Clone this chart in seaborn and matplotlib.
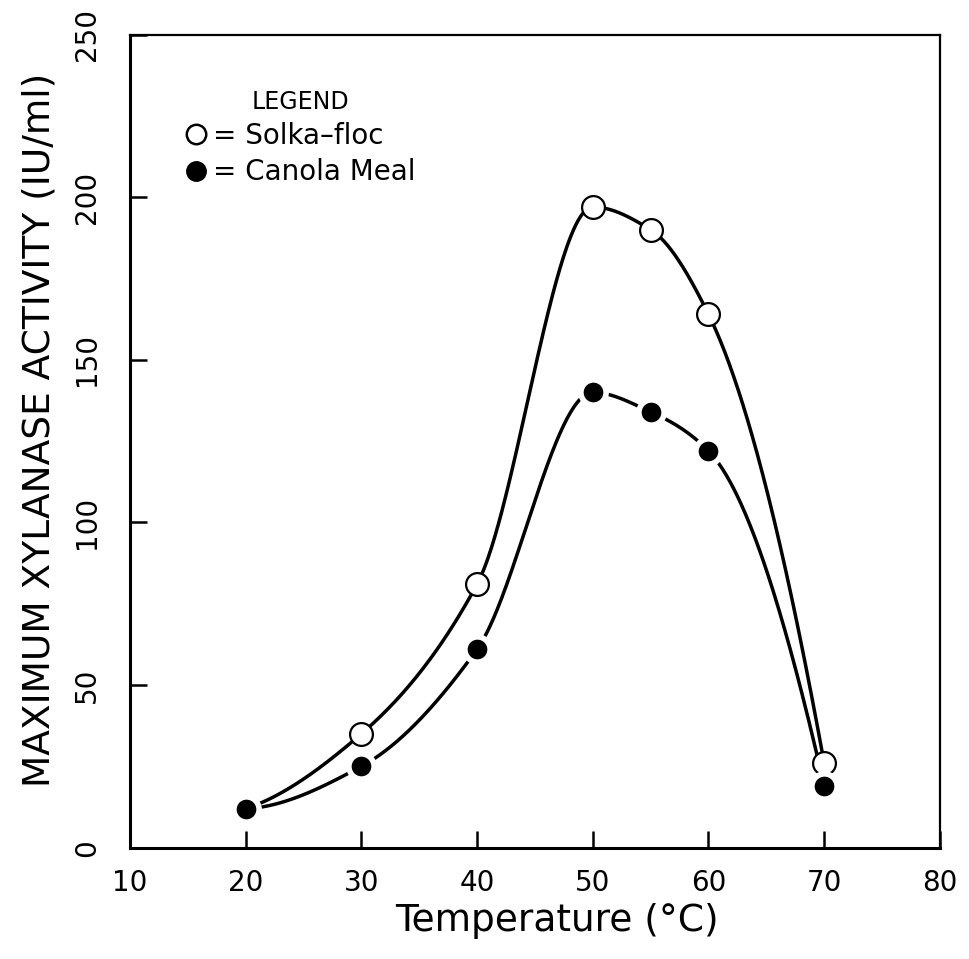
import numpy as np
import matplotlib
matplotlib.use("Agg")
import matplotlib.pyplot as plt
from matplotlib.lines import Line2D
import seaborn as sns

# values
temps = [20, 30, 40, 50, 55, 60, 70]
solka_floc = [12, 35, 81, 197, 190, 164, 26]
canola_meal = [12, 25, 61, 140, 134, 122, 19]

x_ticks = [10, 20, 30, 40, 50, 60, 70, 80]
y_ticks = [0, 50, 100, 150, 200, 250]


def pchip_curve(x, y, n=500):
    """Monotone cubic (PCHIP) through the points - only used to draw a smooth line."""
    x = np.asarray(x, float)
    y = np.asarray(y, float)
    h = np.diff(x)
    m = np.diff(y) / h
    d = np.zeros_like(y)
    for i in range(1, len(x) - 1):
        if m[i - 1] * m[i] > 0:
            w1 = 2 * h[i] + h[i - 1]
            w2 = h[i] + 2 * h[i - 1]
            d[i] = (w1 + w2) / (w1 / m[i - 1] + w2 / m[i])
    d[0] = ((2 * h[0] + h[1]) * m[0] - h[0] * m[1]) / (h[0] + h[1])
    d[-1] = ((2 * h[-1] + h[-2]) * m[-1] - h[-1] * m[-2]) / (h[-1] + h[-2])
    xs = np.linspace(x[0], x[-1], n)
    idx = np.clip(np.searchsorted(x, xs) - 1, 0, len(x) - 2)
    t = (xs - x[idx]) / h[idx]
    h00 = 2 * t ** 3 - 3 * t ** 2 + 1
    h10 = t ** 3 - 2 * t ** 2 + t
    h01 = -2 * t ** 3 + 3 * t ** 2
    h11 = t ** 3 - t ** 2
    ys = h00 * y[idx] + h10 * h[idx] * d[idx] + h01 * y[idx + 1] + h11 * h[idx] * d[idx + 1]
    return xs, ys


sns.set_style("ticks")
plt.rcParams["font.family"] = ["DejaVu Sans"]
plt.rcParams["text.color"] = "black"
plt.rcParams["axes.labelcolor"] = "black"
plt.rcParams["xtick.color"] = "black"
plt.rcParams["ytick.color"] = "black"

fig = plt.figure(figsize=(9.69, 9.59), dpi=100)
ax = fig.add_axes([0.134, 0.116, 0.836, 0.848])

for vals in (solka_floc, canola_meal):
    xs, ys = pchip_curve(temps, vals)
    sns.lineplot(x=xs, y=ys, ax=ax, color="black", linewidth=2.5, sort=False, zorder=2)

sns.scatterplot(x=temps, y=solka_floc, ax=ax, marker="o", s=270,
                facecolor="white", edgecolor="black", linewidth=1.6, zorder=3)
sns.scatterplot(x=temps, y=canola_meal, ax=ax, marker="o", s=330,
                color="black", edgecolor="white", linewidth=4, zorder=3)

ax.set_xlim(10, 80)
ax.set_ylim(0, 250)
ax.set_xticks(x_ticks)
ax.set_yticks(y_ticks)
ax.set_xticklabels([str(v) for v in x_ticks], fontsize=20)
ax.set_yticklabels([str(v) for v in y_ticks], fontsize=20, rotation=90, va="center")
ax.tick_params(direction="in", length=12, width=1.8, color="black", labelcolor="black")
ax.tick_params(axis="x", pad=15)
ax.tick_params(axis="y", pad=21)

for side in ["left", "bottom", "top", "right"]:
    ax.spines[side].set_visible(True)
    ax.spines[side].set_color("black")
ax.spines["left"].set_linewidth(2.2)
ax.spines["bottom"].set_linewidth(2.2)
ax.spines["top"].set_linewidth(1.6)
ax.spines["right"].set_linewidth(1.6)

ax.set_xlabel("Temperature (°C)", fontsize=27)
ax.set_ylabel("MAXIMUM XYLANASE ACTIVITY (IU/ml)", fontsize=27)
ax.xaxis.set_label_coords(0.527, -0.068)
ax.yaxis.set_label_coords(-0.089, 0.514)

handles = [
    Line2D([], [], marker="o", linestyle="", markersize=14, markerfacecolor="white",
           markeredgecolor="black", markeredgewidth=1.8),
    Line2D([], [], marker="o", linestyle="", markersize=14, markerfacecolor="black",
           markeredgecolor="black"),
]
leg = ax.legend(handles, ["= Solka\u2013floc", "= Canola Meal"], title="LEGEND",
                loc="upper left", bbox_to_anchor=(0.068, 0.932), frameon=False,
                fontsize=20, title_fontsize=17, handletextpad=0.2, handlelength=0.8,
                labelspacing=0.3, borderaxespad=0, borderpad=0)
leg.get_title().set_color("black")
for t in leg.get_texts():
    t.set_color("black")

fig.savefig("out.png", dpi=100)
